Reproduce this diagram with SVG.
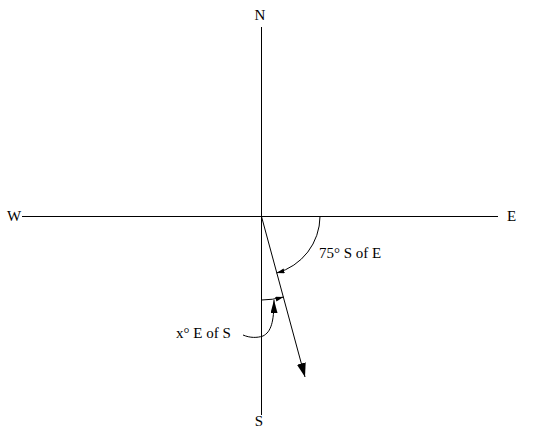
<svg xmlns="http://www.w3.org/2000/svg" width="537" height="436" viewBox="0 0 537 436">
<style>
.ln{stroke:#000;stroke-width:1;fill:none}
.lbl{font-family:"Liberation Serif","Times New Roman",serif;font-size:15px;fill:#000}
</style>
<defs>
<marker id="bigHead" markerUnits="userSpaceOnUse" markerWidth="16" markerHeight="10" refX="14" refY="4.5" orient="auto"><path d="M0,0 L14,4.5 L0,9 Z" fill="#000"/></marker>
<marker id="smallHead" markerUnits="userSpaceOnUse" markerWidth="10" markerHeight="6" refX="8" refY="2.5" orient="auto"><path d="M0,0 L8,2.5 L0,5 Z" fill="#000"/></marker>
<marker id="leaderHead" markerUnits="userSpaceOnUse" markerWidth="14" markerHeight="8" refX="13" refY="3.5" orient="auto"><path d="M0,0 L13,3.5 L0,7 Z" fill="#000"/></marker>
</defs>
<g id="axes">
<line class="ln" x1="22" y1="216.5" x2="498" y2="216.5"/>
<line class="ln" x1="261.5" y1="27" x2="261.5" y2="415"/>
</g>
<g id="labels">
<text id="N" class="lbl" x="260" y="20" text-anchor="middle">N</text>
<text id="S" class="lbl" x="259" y="426" text-anchor="middle">S</text>
<text id="W" class="lbl" x="7" y="221">W</text>
<text id="E" class="lbl" x="507" y="221">E</text>
<text id="angle75" class="lbl" x="319" y="258">75° S of E</text>
<text id="angleX" class="lbl" x="176" y="338">x° E of S</text>
</g>
<g id="connectors">
<line id="vector" class="ln" x1="261.5" y1="216.5" x2="305" y2="377" marker-end="url(#bigHead)"/>
<path id="arc75" class="ln" d="M320,216.5 A59,59 0 0 1 276.5,273" marker-end="url(#smallHead)"/>
<path id="arcX" class="ln" d="M261.5,300 A84,84 0 0 0 283.5,297" marker-end="url(#smallHead)"/>
<path id="leader" class="ln" d="M243,335 C250,338 257,338 263,336 C271,332 274,322 274,300" marker-end="url(#leaderHead)"/>
</g>
</svg>
